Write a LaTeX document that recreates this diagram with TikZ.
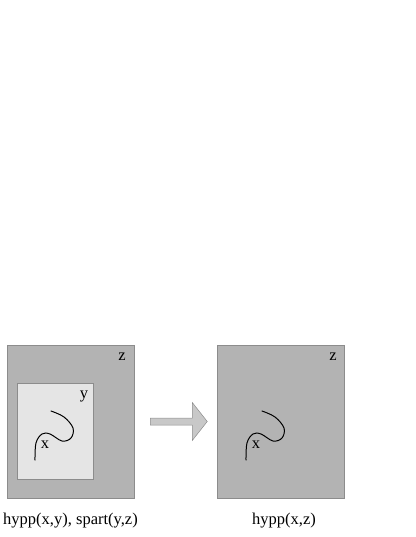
\documentclass[tikz,border=0pt]{standalone}
\usepackage{fontspec}
\setmainfont{Liberation Serif}
\usepackage{tikz}
\usetikzlibrary{calc}

\begin{document}
\begin{tikzpicture}[x=1pt, y=-1pt,
        outerbox/.style={draw=boxline, fill=outergray, line width=0.5pt, minimum width=127pt, minimum height=153pt, inner sep=0pt},
        innerbox/.style={draw=boxline, fill=innergray, line width=0.5pt, minimum width=76pt, minimum height=96pt, inner sep=0pt},
        lbl/.style={font=\fontsize{16.5}{19}\selectfont, inner sep=0pt},
        squiggle/.style={line width=1pt, line cap=round}]
            \xdefinecolor{outergray}{RGB}{179, 179, 179}
            \xdefinecolor{innergray}{RGB}{229, 229, 229}
            \xdefinecolor{boxline}{RGB}{140, 140, 140}
            \xdefinecolor{arrowgray}{RGB}{200, 200, 200}
            \useasboundingbox (0, 0) rectangle (415, 537);

            % Draw the box on the left with the inner box
            \node[outerbox] (Before) at (70.5, 421.5) {};
            \node[innerbox] (Inner) at (55, 431) {};
            \node[lbl] (Before-z) at (122, 357) {z};
            \node[lbl] (Inner-y) at (84, 396) {y};

            % Draw the box on the right
            \node[outerbox] (After) at (281, 421.5) {};
            \node[lbl] (After-z) at (333, 357) {z};

            % Draw the curves with their labels
            \foreach \dx/\name in {0/Before, 211/After} {
                    \draw[squiggle, shift={(\dx, 0)}] plot[smooth, tension=0.6] coordinates {(51, 411) (64, 417) (73, 428) (71, 438) (62, 441) (50, 434) (42, 434) (36, 443) (35, 460)};
                    \node[lbl] (\name-x) at (45+\dx, 445) {x};
                }

            % Add block arrow between the two boxes
            \coordinate (Arrow-s) at ($(Before.east)+(16, 0)$);
            \coordinate (Arrow-e) at ($(After.west)+(-10, 0)$);
            \filldraw[fill=arrowgray, draw=boxline, line width=0.5pt]
            ($(Arrow-s)+(0, -3.5)$) -- ($(Arrow-e)+(-15, -3.5)$) -- ($(Arrow-e)+(-15, -19)$) -- (Arrow-e)
            -- ($(Arrow-e)+(-15, 19)$) -- ($(Arrow-e)+(-15, 3.5)$) -- ($(Arrow-s)+(0, 3.5)$) -- cycle;

            % Add captions below the boxes
            \node[lbl] (Before-caption) at (70.5, 521) {hypp(x,y), spart(y,z)};
            \node[lbl] (After-caption) at (284, 521) {hypp(x,z)};

        \end{tikzpicture}
\end{document}
